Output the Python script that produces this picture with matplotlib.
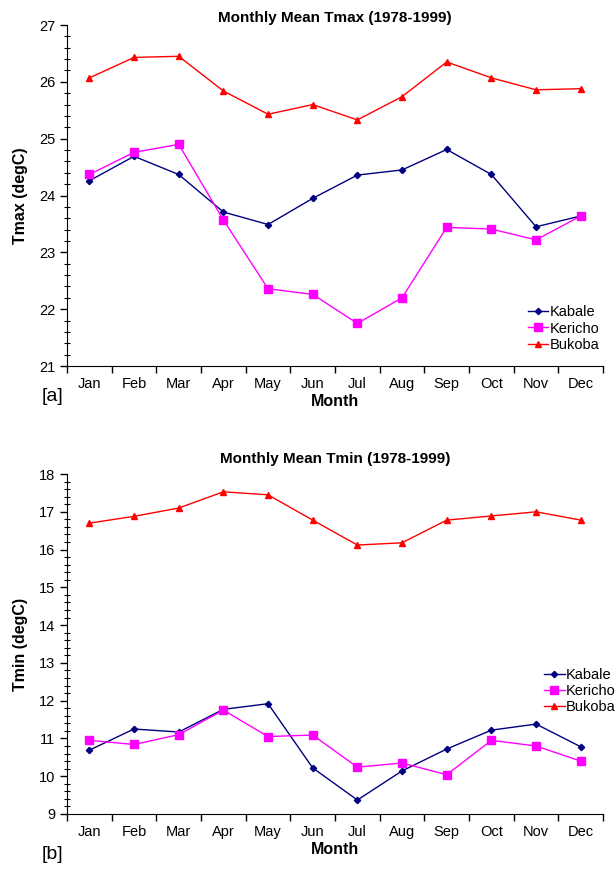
import numpy as np
import matplotlib
matplotlib.use('Agg')
from matplotlib import pyplot as plt
from matplotlib.ticker import MultipleLocator, FixedLocator, NullFormatter

plt.rcParams['font.family'] = ['Liberation Sans', 'DejaVu Sans']

months = ['Jan', 'Feb', 'Mar', 'Apr', 'May', 'Jun',
          'Jul', 'Aug', 'Sep', 'Oct', 'Nov', 'Dec']
stations = ['Kabale', 'Kericho', 'Bukoba']

# Monthly mean Tmax (degC)
tmax_kabale = [24.26, 24.69, 24.37, 23.71, 23.49, 23.95, 24.36, 24.45, 24.81, 24.37, 23.45, 23.64]
tmax_kericho = [24.37, 24.76, 24.90, 23.57, 22.36, 22.26, 21.75, 22.20, 23.44, 23.41, 23.22, 23.64]
tmax_bukoba = [26.07, 26.43, 26.45, 25.84, 25.43, 25.60, 25.33, 25.74, 26.35, 26.07, 25.86, 25.88]

# Monthly mean Tmin (degC)
tmin_kabale = [10.69, 11.25, 11.17, 11.77, 11.92, 10.22, 9.37, 10.14, 10.72, 11.22, 11.38, 10.78]
tmin_kericho = [10.95, 10.84, 11.10, 11.75, 11.05, 11.09, 10.24, 10.35, 10.04, 10.95, 10.80, 10.40]
tmin_bukoba = [16.70, 16.88, 17.10, 17.53, 17.45, 16.78, 16.12, 16.18, 16.78, 16.89, 17.00, 16.78]

styles = [dict(color='#000080', marker='D', markersize=3.2),
          dict(color='#ff00ff', marker='s', markersize=5.5),
          dict(color='#ff0000', marker='^', markersize=5)]

fig = plt.figure(figsize=(6.16, 8.69), dpi=100)
ax1 = fig.add_axes([0.1088, 0.5788, 0.8702, 0.3924])
ax2 = fig.add_axes([0.1088, 0.0633, 0.8702, 0.3912])


def draw(ax, series, title, ylabel, ylim, tag, tag_y, title_pad, legend_anchor):
    x = np.arange(len(months))
    for name, vals, st in zip(stations, series, styles):
        ax.plot(x, vals, linewidth=1, label=name, **st)
    ax.set_xlim(-0.5, len(months) - 0.5)
    ax.set_ylim(*ylim)
    ax.yaxis.set_major_locator(MultipleLocator(1))
    ax.yaxis.set_minor_locator(MultipleLocator(0.2))
    ax.xaxis.set_major_locator(FixedLocator(np.arange(len(months) + 1) - 0.5))
    ax.xaxis.set_major_formatter(NullFormatter())
    ax.xaxis.set_minor_locator(FixedLocator(x))
    ax.set_xticklabels(months, minor=True)
    ax.tick_params(axis='x', which='major', direction='out', length=5, width=1)
    ax.tick_params(axis='x', which='minor', length=0, pad=8, labelsize=10.5)
    ax.tick_params(axis='y', which='major', direction='out', length=5, width=1, labelsize=10.5)
    ax.tick_params(axis='y', which='minor', direction='inout', length=4, width=0.8)
    for s in ['top', 'right']:
        ax.spines[s].set_visible(False)
    ax.set_title(title, fontsize=11, fontweight='bold', pad=title_pad)
    ax.set_xlabel('Month', fontsize=11.5, fontweight='bold', labelpad=2)
    ax.set_ylabel(ylabel, fontsize=11.5, fontweight='bold', labelpad=8)
    ax.text(-0.028, tag_y, tag, transform=ax.transAxes, fontsize=14,
            ha='center', va='center')
    ax.legend(loc='center left', bbox_to_anchor=legend_anchor, frameon=False,
              fontsize=10.5, handlelength=1.4, handletextpad=0.1,
              labelspacing=0.15, borderpad=0, borderaxespad=0)


draw(ax1, [tmax_kabale, tmax_kericho, tmax_bukoba], 'Monthly Mean Tmax (1978-1999)',
     'Tmax (degC)', (21, 27), '[a]', -0.089, 1, (0.86, 0.11))
draw(ax2, [tmin_kabale, tmin_kericho, tmin_bukoba], 'Monthly Mean Tmin (1978-1999)',
     'Tmin (degC)', (9, 18), '[b]', -0.12, 8, (0.89, 0.362))

fig.savefig('out.png', dpi=100)
